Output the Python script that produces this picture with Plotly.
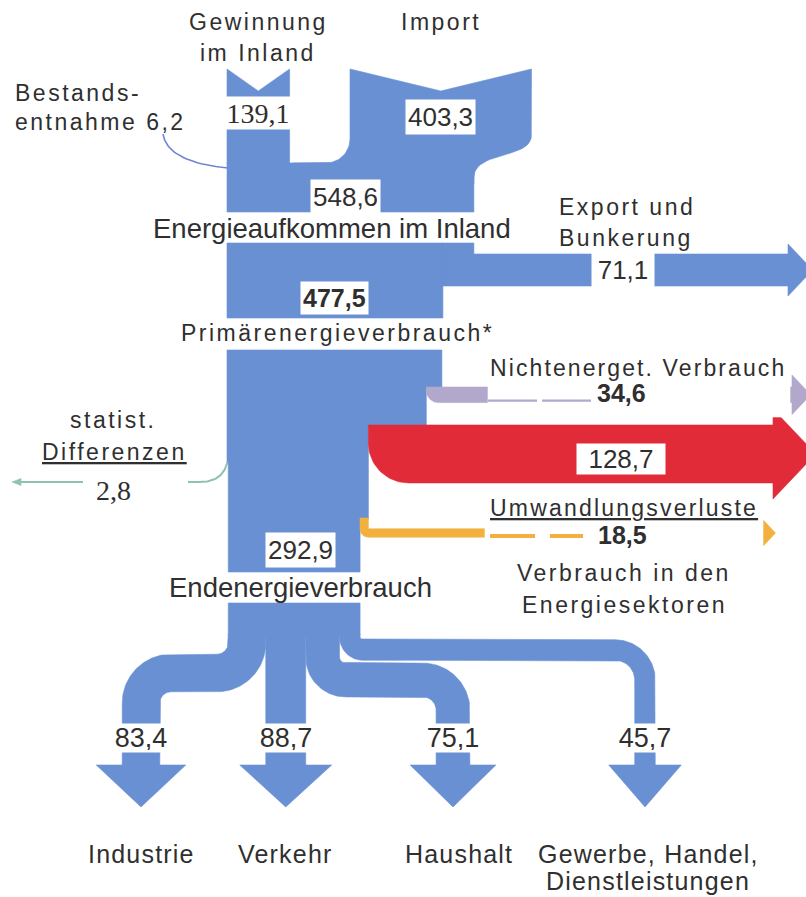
import numpy as np
import plotly.graph_objects as go

# ---------------- data (values as printed in the chart) ----------------
source_labels = ["Gewinnung", "im Inland", "Import", "Bestands-", "entnahme"]
source_values = [139.1, 403.3, 6.2]          # Gewinnung, Import, Bestandsentnahme
aufkommen_value = 548.6                       # Energieaufkommen im Inland
export_value = 71.1                           # Export und Bunkerung
primaer_value = 477.5                         # Primärenergieverbrauch*
branch_values = [34.6, 128.7, 18.5, 2.8]      # Nichtenerget., Umwandlungsverl., Energiesektoren, statist. Diff.
end_value = 292.9                             # Endenergieverbrauch
sector_labels = ["Industrie", "Verkehr", "Haushalt", "Gewerbe, Handel,"]
sector_values = [83.4, 88.7, 75.1, 45.7]


def fmt(v):
    return f"{v:.1f}".replace(".", ",")


# ---------------- style / layout constants ----------------
S = 0.45                      # px per unit (flow width scale)
BLUE = "#6890d3"
RED = "#e12b39"
PURPLE = "#b2a8cb"
ORANGE = "#f2b13f"
TEAL = "#8fc2b3"
LINEBLUE = "#6f84d4"
TXT = "#2f2f2f"
SANS = "Liberation Sans, Arial, sans-serif"
SERIF = "Liberation Serif, Times New Roman, serif"

XL = 227.0
Y_TOP, NOTCH = 69.0, 22.0
Y_GAP, Y_A_END = 163.0, 212.0
Y_B, Y_EXP, Y_B_END = 243.0, 254.0, 318.0
Y_C, Y_PUR, Y_RED, Y_ORA_START, Y_ORA_MID, Y_STAT, Y_C_END = 350.0, 387.0, 425.0, 518.0, 533.0, 464.0, 572.0
Y_D, Y_FORK = 603.0, 634.0
Y_HEAD, HEAD_H = 765.0, 42.0
IMP_X = 350.0

fig = go.Figure()


def add_poly(xs, ys, color):
    xs = list(map(float, xs))
    ys = list(map(float, ys))
    fig.add_trace(go.Scatter(x=xs + [xs[0]], y=ys + [ys[0]], mode="lines", fill="toself",
                             fillcolor=color, line=dict(color=color, width=0.6),
                             hoverinfo="skip", showlegend=False))


def add_line(xs, ys, color, width, dash=None):
    fig.add_trace(go.Scatter(x=list(xs), y=list(ys), mode="lines",
                             line=dict(color=color, width=width, dash=dash),
                             hoverinfo="skip", showlegend=False))


def arc(cx, cy, r, a0, a1, n=24):
    t = np.linspace(a0, a1, n)
    return list(cx + r * np.cos(t)), list(cy + r * np.sin(t))


def bezier(p0, p1, p2, p3, n=30):
    t = np.linspace(0, 1, n)[:, None]
    p = ((1 - t) ** 3) * np.array(p0) + 3 * ((1 - t) ** 2) * t * np.array(p1) \
        + 3 * (1 - t) * t ** 2 * np.array(p2) + t ** 3 * np.array(p3)
    return list(p[:, 0]), list(p[:, 1])


def route(x0, y0, yh, x1, y1, r1, r2, n=40):
    if x1 is None or abs(x1 - x0) < 1e-6:
        return np.array([[x0, y0], [x0, y1]])
    d = 1 if x1 > x0 else -1
    pts = [(x0, y0), (x0, yh - r1)]
    cx, cy = x0 + d * r1, yh - r1
    t = np.linspace(np.pi if d == 1 else 0.0, np.pi / 2, n)[1:]
    pts += list(zip(cx + r1 * np.cos(t), cy + r1 * np.sin(t)))
    cx2, cy2 = x1 - d * r2, yh + r2
    pts.append((cx2, yh))
    t = np.linspace(-np.pi / 2, 0.0 if d == 1 else -np.pi, n)[1:]
    pts += list(zip(cx2 + r2 * np.cos(t), cy2 + r2 * np.sin(t)))
    pts.append((x1, y1))
    return np.array(pts)


def band(center, w):
    c = np.asarray(center, float)
    seg = np.hypot(*np.diff(c, axis=0).T)
    keep = np.concatenate([[True], seg > 1e-9])
    c = c[keep]
    L = np.concatenate([[0], np.cumsum(np.hypot(*np.diff(c, axis=0).T))])
    s = np.linspace(0, L[-1], int(L[-1]) + 2)
    x = np.interp(s, L, c[:, 0])
    y = np.interp(s, L, c[:, 1])
    tx, ty = np.gradient(x), np.gradient(y)
    nrm = np.hypot(tx, ty)
    tx, ty = tx / nrm, ty / nrm
    nx, ny = -ty, tx
    lx, ly = x + nx * w / 2, y + ny * w / 2
    rx, ry = x - nx * w / 2, y - ny * w / 2
    return list(lx) + list(rx[::-1]), list(ly) + list(ry[::-1])


def h_arrow(start, y_top, w, head_x, extra, color, x_left, r_corner):
    """Band leaving the trunk to the right, with arrow head (clipped at the border)."""
    cy = y_top + w / 2
    hh = w / 2 + extra
    yb = y_top + w
    xs, ys = list(start[0]), list(start[1])
    xs += [head_x, head_x, head_x + hh * 0.95, head_x, head_x]
    ys += [y_top, cy - hh, cy, cy + hh, yb]
    if r_corner > 0:
        ax, ay = arc(x_left + r_corner, yb - r_corner, r_corner, np.pi / 2, np.pi)
        xs += ax
        ys += ay
    else:
        xs += [x_left]
        ys += [yb]
    add_poly(xs, ys, color)
    return cy


# ---------------- widths and x positions from the values ----------------
wG, wI, wB = [v * S for v in source_values]
W0 = aufkommen_value * S
wE = export_value * S
wP = primaer_value * S
wN, wU, wV, wD = [v * S for v in branch_values]
wEnd = end_value * S

XR0 = XL + W0            # right edge of Energieaufkommen
XE = XR0 - wE            # right edge of Primärenergieverbrauch
XN = XE - wN
XU = XN - wU
XV = XU - wV             # right edge of Endenergieverbrauch
XL2 = XL + wD            # left edge after statist. Differenzen

# ---------------- top: Gewinnung + Import ----------------
add_poly([XL, XL + wG / 2, XL + wG, XL + wG, XL],
         [Y_TOP, Y_TOP + NOTCH, Y_TOP, Y_GAP + 1, Y_GAP + 1], BLUE)

R_gap = 24.0
ix, iy = [IMP_X, IMP_X + wI / 2, IMP_X + wI, IMP_X + wI], [Y_TOP, Y_TOP + NOTCH, Y_TOP, 135.0]
bx, by = bezier((IMP_X + wI, 135.0), (IMP_X + wI, 160.0), (XR0, 150.0), (XR0, 178.0))
ix += bx[1:]
iy += by[1:]
ix += [XR0, XR0 - wI, XR0 - wI]
iy += [184.0, 184.0, Y_GAP]
ax, ay = arc(IMP_X - R_gap, Y_GAP - R_gap, R_gap, np.pi / 2, 0.0)
ix += ax
iy += ay
add_poly(ix, iy, BLUE)

# trunk segment A (Energieaufkommen)
add_poly([XL, XR0, XR0, XL], [Y_GAP, Y_GAP, Y_A_END, Y_A_END], BLUE)

# Bestandsentnahme thin line
bx, by = bezier((163.0, 134.0), (166.0, 152.0), (186.0, 164.0), (XL + 1, 168.0))
add_line(bx, by, LINEBLUE, 1.6)

# ---------------- segment B + export ----------------
add_poly([XL, XE + 1, XE + 1, XL], [Y_B, Y_B, Y_B_END, Y_B_END], BLUE)
exp_cy = h_arrow(([XE, XR0, XR0], [Y_B, Y_B, Y_EXP]), Y_EXP, wE, 788.0, 10.0, BLUE, XE, 0)

# ---------------- segment C (Primärenergie -> Endenergie) ----------------
add_poly([XL, XE, XE, XN, XN, XU, XU, XV, XV, XL2, XL2, XL],
         [Y_C, Y_C, Y_PUR + 1, Y_PUR + 1, Y_RED + 1, Y_RED + 1, Y_ORA_START + 1, Y_ORA_START + 1,
          Y_C_END, Y_C_END, Y_STAT, Y_STAT], BLUE)

# Nichtenergetischer Verbrauch (purple)
pur_cy = h_arrow(([XN], [Y_PUR]), Y_PUR, wN, 792.0, 12.0, PURPLE, XN, min(12.0, wN * 0.8))
# Umwandlungsverluste (red)
red_cy = h_arrow(([XU], [Y_RED]), Y_RED, wU, 773.0, 16.0, RED, XU, 40.0)
# Verbrauch in den Energiesektoren (orange)
o_top = Y_ORA_MID - wV / 2
ora_cy = h_arrow(([XV, XU, XU], [Y_ORA_START, Y_ORA_START, o_top]), o_top, wV, 763.0, 9.0,
                 ORANGE, XV, min(8.0, wV * 0.95))

# statist. Differenzen (thin teal line to the left)
bx, by = bezier((XL + 0.5, Y_STAT - 2), (XL - 3, 476.0), (XL - 12, 482.0), (XL - 28, 482.0))
add_line(bx + [188.0], by + [482.0], TEAL, 2.0)
add_line([83.0, 18.0], [482.0, 482.0], TEAL, 2.0)
add_poly([12.0, 21.0, 21.0], [482.0, 478.5, 485.5], TEAL)

# ---------------- segment D and the sector fan ----------------
add_poly([XL2, XV, XV, XL2], [Y_D, Y_D, Y_FORK + 1, Y_FORK + 1], BLUE)

sector_target_x = [141.0, None, 453.0, 645.0]
sector_turn_y = [673.0, None, 680.0, 650.0]
sector_r1_extra = [11.25, 0, 6.0, 3.0]
sector_w = [v * S for v in sector_values]
left = XL2
arrow_cx = []
for i, w in enumerate(sector_w):
    x0 = left + w / 2
    left += w
    tx = sector_target_x[i]
    if tx is None:
        cl = route(x0, Y_FORK, None, None, Y_HEAD + 1, 0, 0)
        xc = x0
    else:
        cl = route(x0, Y_FORK, sector_turn_y[i], tx, Y_HEAD + 1, w / 2 + sector_r1_extra[i], 30.0)
        xc = tx
    px, py = band(cl, w)
    add_poly(px, py, BLUE)
    hw = w / 2 + 26.0
    add_poly([xc - hw, xc + hw, xc], [Y_HEAD, Y_HEAD, Y_HEAD + HEAD_H], BLUE)
    arrow_cx.append(xc)

# ---------------- white label patches and dashes ----------------
add_poly([488, 790, 790, 488], [352, 352, 417, 417], "white")
add_poly([485, 763, 763, 485], [493, 493, 627, 627], "white")
add_line([488, 537], [Y_PUR + wN - 2] * 2, PURPLE, 2.2)
add_line([542, 591], [Y_PUR + wN - 2] * 2, PURPLE, 2.2)
add_line([490, 535], [ora_cy + 3] * 2, ORANGE, 4)
add_line([550, 583], [ora_cy + 3] * 2, ORANGE, 4)

# ---------------- text ----------------
ann = []


def sp(t, ls=2.5):
    return f'<span style="letter-spacing:{ls}px">{t}</span>'


def T(x, y, text, size=23, family=SANS, xanchor="center", bg=None, w=None, h=None):
    d = dict(x=x, y=y, xref="x", yref="y", text=text, showarrow=False, xanchor=xanchor,
             yanchor="middle", font=dict(family=family, size=size, color=TXT))
    if bg:
        d.update(bgcolor=bg, borderpad=2)
    if w:
        d["width"] = w
    if h:
        d["height"] = h
    ann.append(d)


g_cx = XL + wG / 2
i_cx = IMP_X + wI / 2
T(g_cx, 22, sp(source_labels[0]), 23)
T(g_cx, 53, sp(source_labels[1]), 23)
T(i_cx, 22, sp(source_labels[2]), 23)
T(g_cx, 113, fmt(source_values[0]), 28, SERIF, bg="white", w=74, h=28)
T(i_cx, 117, fmt(source_values[1]), 26, bg="white")
T(13, 93, sp(source_labels[3]), 23, xanchor="left")
T(13, 122, sp(source_labels[4] + " " + fmt(source_values[2])), 23, xanchor="left")
T(345, 197, fmt(aufkommen_value), 26, bg="white")
T(332, 228, "Energieaufkommen im Inland", 27.5)
T(557, 207, sp("Export und"), 23, xanchor="left")
T(557, 238, sp("Bunkerung"), 23, xanchor="left")
T(623, exp_cy, fmt(export_value), 26, bg="white", w=58)
T(334, 298, "<b>" + fmt(primaer_value) + "</b>", 25, bg="white")
T(337, 333, sp("Primärenergieverbrauch*"), 23)
T(638, 368, sp("Nichtenerget. Verbrauch", 2.1), 23)
T(621, 393, "<b>" + fmt(branch_values[0]) + "</b>", 25)
T(621, red_cy + 5, fmt(branch_values[1]), 26, bg="white", w=84, h=26)
T(624, 508, sp("<u>Umwandlungsverluste</u>", 2.2), 23)
T(622, 535, "<b>" + fmt(branch_values[2]) + "</b>", 25)
T(624, 573, sp("Verbrauch in den"), 23)
T(624, 605, sp("Energiesektoren"), 23)
T(113, 420, sp("statist."), 23)
T(114, 452, sp("<u>Differenzen</u>"), 23)
T(113, 490, fmt(branch_values[3]), 28, SERIF)
T(300, 550, fmt(end_value), 26, bg="white")
T(300, 587, "Endenergieverbrauch", 27.5)
for xc, v in zip(arrow_cx, sector_values):
    T(xc, 738, fmt(v), 27, bg="white", w=58, h=24)
name_x = [141.0, arrow_cx[1], 459.0, 648.0]
for xc, lab in zip(name_x, sector_labels):
    T(xc, 854, sp(lab, 1.2), 25)
T(648, 881, sp("Dienstleistungen", 1.2), 25)

fig.update_layout(
    width=806, height=897,
    margin=dict(l=0, r=0, t=0, b=0),
    paper_bgcolor="white", plot_bgcolor="white",
    xaxis=dict(range=[0, 806], visible=False, fixedrange=True),
    yaxis=dict(range=[897, 0], visible=False, fixedrange=True),
    showlegend=False, hovermode=False,
    annotations=ann,
)
fig.write_html(
    "out.html",
    config={"displayModeBar": False},
    post_script="document.body.style.margin='0';document.body.style.padding='0';"
                "document.documentElement.style.overflow='hidden';",
)
